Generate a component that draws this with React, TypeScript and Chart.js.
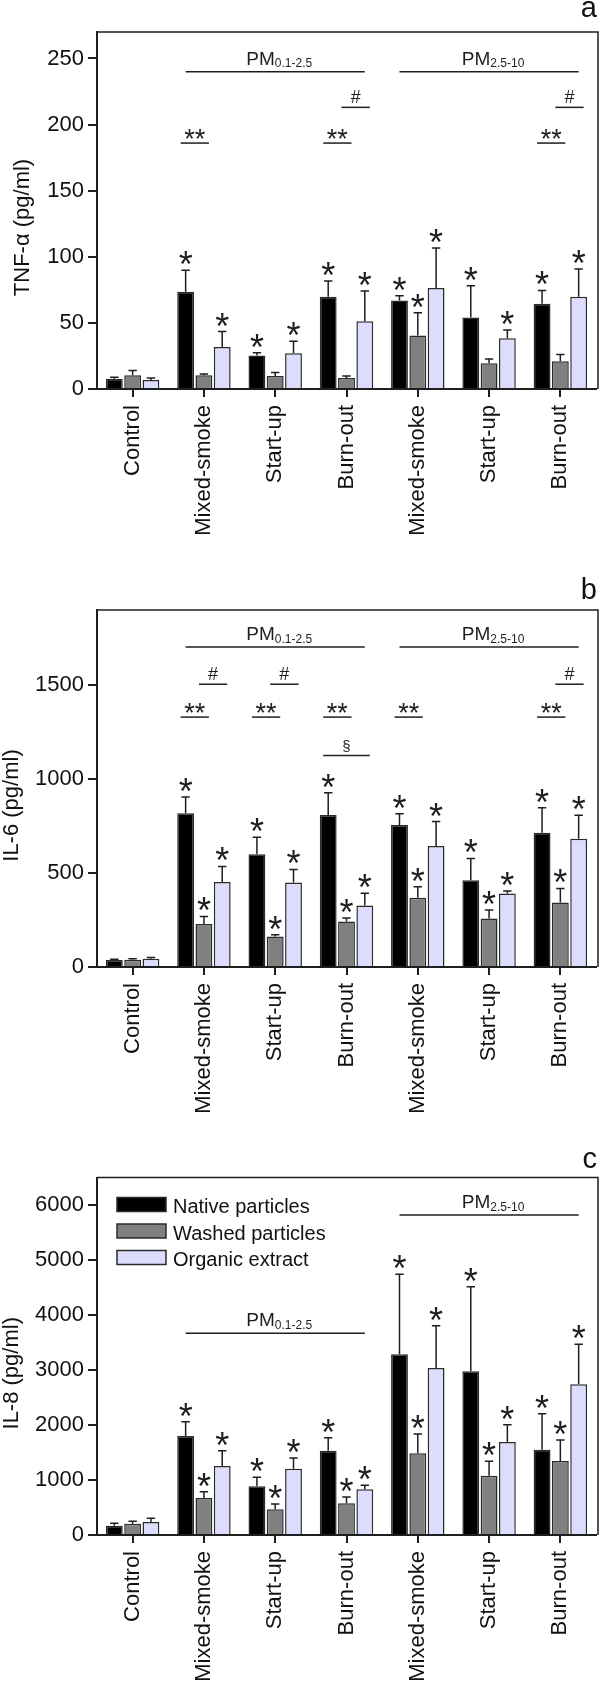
import { useEffect, useRef } from "react";
import { Chart, registerables } from "chart.js";

Chart.register(...registerables);

const FONT = "'Liberation Sans', Arial, Helvetica, sans-serif";

// ---------- shared categories / series ----------
const categories = ["Control", "Mixed-smoke", "Start-up", "Burn-out", "Mixed-smoke", "Start-up", "Burn-out"];
const seriesNames = ["Native particles", "Washed particles", "Organic extract"];
const seriesColors = ["#000000", "#808080", "#dcdcfc"];
const pmRanges = [
  { from: 1, to: 3, sub: "0.1-2.5" },
  { from: 4, to: 6, sub: "2.5-10" },
];

// ---------- panel a: TNF-alpha ----------
const tnfMax = 270;
const tnfTickValues = [0, 50, 100, 150, 200, 250];
const tnfNative = [7.8, 73.5, 25.3, 69.7, 66.9, 54, 64.4];
const tnfNativeErr = [1.0, 16.4, 2.2, 11.9, 3.6, 24, 10.1];
const tnfWashed = [10.4, 10.4, 9.8, 8.3, 40.4, 19.4, 21];
const tnfWashedErr = [3.5, 1.0, 2.6, 1.5, 17.2, 3.3, 5.0];
const tnfOrganic = [6.8, 31.8, 27, 51.3, 76.3, 38.4, 69.7];
const tnfOrganicErr = [1.5, 11.6, 9.1, 22.9, 30.3, 6.3, 21.0];
const tnfNativeStar = [0, 1, 1, 1, 1, 1, 1];
const tnfWashedStar = [0, 0, 0, 0, 1, 0, 0];
const tnfOrganicStar = [0, 1, 1, 1, 1, 1, 1];
const tnfDoubleStarGroups = [1, 3, 6];
const tnfDoubleStarLevel = 186;
const tnfHashGroups = [3, 6];
const tnfHashLevel = 213;
const tnfSectionGroups: number[] = [];
const tnfSectionLevel = 0;
const tnfPmLevels = [240, 240];

// ---------- panel b: IL-6 ----------
const il6Max = 1900;
const il6TickValues = [0, 500, 1000, 1500];
const il6Native = [37, 818, 600, 809, 756, 462, 715];
const il6NativeErr = [4, 87, 90, 118, 60, 116, 133];
const il6Washed = [39, 229, 162, 242, 368, 258, 343];
const il6WashedErr = [5, 40, 9, 19, 59, 46, 75];
const il6Organic = [44, 452, 450, 327, 644, 391, 683];
const il6OrganicErr = [6, 83, 69, 66, 130, 13, 124];
const il6NativeStar = [0, 1, 1, 1, 1, 1, 1];
const il6WashedStar = [0, 1, 1, 1, 1, 1, 1];
const il6OrganicStar = [0, 1, 1, 1, 1, 1, 1];
const il6DoubleStarGroups = [1, 2, 3, 4, 6];
const il6DoubleStarLevel = 1330;
const il6HashGroups = [1, 2, 6];
const il6HashLevel = 1505;
const il6SectionGroups = [3];
const il6SectionLevel = 1125;
const il6PmLevels = [1703, 1703];

// ---------- panel c: IL-8 ----------
const il8Max = 6500;
const il8TickValues = [0, 1000, 2000, 3000, 4000, 5000, 6000];
const il8Native = [170, 1800, 885, 1533, 3285, 2976, 1552];
const il8NativeErr = [42, 261, 163, 237, 1454, 1539, 654];
const il8Washed = [206, 673, 467, 576, 1485, 1079, 1345];
const il8WashedErr = [42, 115, 97, 115, 351, 260, 382];
const il8Organic = [236, 1255, 1206, 830, 3036, 1691, 2739];
const il8OrganicErr = [67, 278, 194, 73, 770, 315, 728];
const il8NativeStar = [0, 1, 1, 1, 1, 1, 1];
const il8WashedStar = [0, 1, 1, 1, 1, 1, 1];
const il8OrganicStar = [0, 1, 1, 1, 1, 1, 1];
const il8DoubleStarGroups: number[] = [];
const il8HashGroups: number[] = [];
const il8SectionGroups: number[] = [];
const il8PmLevels = [3667, 5820];

type PanelCfg = {
  letter: string;
  title: string;
  max: number;
  tickValues: number[];
  values: number[][];
  errors: number[][];
  stars: number[][];
  doubleStar: { groups: number[]; level: number };
  hash: { groups: number[]; level: number };
  section: { groups: number[]; level: number };
  pmLevels: number[];
  legend: boolean;
  canvasTop: number;
  canvasHeight: number;
  areaTop: number;
  areaBottom: number;
  letterBaseline: number;
  titleX: number;
};

const panels: PanelCfg[] = [
  {
    letter: "a", title: "TNF-\u03b1 (pg/ml)", max: tnfMax, tickValues: tnfTickValues,
    values: [tnfNative, tnfWashed, tnfOrganic],
    errors: [tnfNativeErr, tnfWashedErr, tnfOrganicErr],
    stars: [tnfNativeStar, tnfWashedStar, tnfOrganicStar],
    doubleStar: { groups: tnfDoubleStarGroups, level: tnfDoubleStarLevel },
    hash: { groups: tnfHashGroups, level: tnfHashLevel },
    section: { groups: tnfSectionGroups, level: tnfSectionLevel },
    pmLevels: tnfPmLevels, legend: false,
    canvasTop: 0, canvasHeight: 560, areaTop: 32, areaBottom: 389, letterBaseline: 16.5, titleX: 28.7,
  },
  {
    letter: "b", title: "IL-6 (pg/ml)", max: il6Max, tickValues: il6TickValues,
    values: [il6Native, il6Washed, il6Organic],
    errors: [il6NativeErr, il6WashedErr, il6OrganicErr],
    stars: [il6NativeStar, il6WashedStar, il6OrganicStar],
    doubleStar: { groups: il6DoubleStarGroups, level: il6DoubleStarLevel },
    hash: { groups: il6HashGroups, level: il6HashLevel },
    section: { groups: il6SectionGroups, level: il6SectionLevel },
    pmLevels: il6PmLevels, legend: false,
    canvasTop: 560, canvasHeight: 575, areaTop: 50, areaBottom: 407, letterBaseline: 39, titleX: 17.7,
  },
  {
    letter: "c", title: "IL-8 (pg/ml)", max: il8Max, tickValues: il8TickValues,
    values: [il8Native, il8Washed, il8Organic],
    errors: [il8NativeErr, il8WashedErr, il8OrganicErr],
    stars: [il8NativeStar, il8WashedStar, il8OrganicStar],
    doubleStar: { groups: il8DoubleStarGroups, level: 0 },
    hash: { groups: il8HashGroups, level: 0 },
    section: { groups: il8SectionGroups, level: 0 },
    pmLevels: il8PmLevels, legend: true,
    canvasTop: 1135, canvasHeight: 551, areaTop: 42.5, areaBottom: 400, letterBaseline: 32.5, titleX: 17.7,
  },
];

const INK = "#1e1e1e";

function drawTextAbove(ctx: CanvasRenderingContext2D, text: string, cx: number, bottomY: number) {
  ctx.textAlign = "center";
  ctx.textBaseline = "alphabetic";
  const m = ctx.measureText(text);
  ctx.fillText(text, cx, bottomY - m.actualBoundingBoxDescent);
}

const decorPlugin = {
  id: "panelDecor",
  afterDatasetsDraw(chart: any) {
    const cfg: PanelCfg = chart.options.plugins.panelDecor.cfg;
    const ctx: CanvasRenderingContext2D = chart.ctx;
    const y = chart.scales.y;
    const metas = [0, 1, 2].map((i) => chart.getDatasetMeta(i));
    const barX = (g: number, s: number) => metas[s].data[g].x;
    ctx.save();
    ctx.strokeStyle = INK;
    ctx.fillStyle = INK;
    ctx.lineWidth = 1.5;
    // error bars + single stars
    for (let s = 0; s < 3; s++) {
      for (let g = 0; g < categories.length; g++) {
        const el = metas[s].data[g];
        const top = y.getPixelForValue(cfg.values[s][g] + cfg.errors[s][g]);
        ctx.beginPath();
        ctx.moveTo(el.x, el.y);
        ctx.lineTo(el.x, top);
        ctx.moveTo(el.x - 4.2, top);
        ctx.lineTo(el.x + 4.2, top);
        ctx.stroke();
        if (cfg.stars[s][g]) {
          ctx.font = `36px ${FONT}`;
          drawTextAbove(ctx, "*", el.x, top - 5);
        }
      }
    }
    // brackets
    const bracket = (g: number, from: number, to: number, level: number, text: string, font: string) => {
      const x1 = barX(g, from) - 5;
      const x2 = barX(g, to) + 5;
      const py = y.getPixelForValue(level);
      ctx.beginPath();
      ctx.moveTo(x1, py);
      ctx.lineTo(x2, py);
      ctx.stroke();
      ctx.font = font;
      drawTextAbove(ctx, text, (x1 + x2) / 2, py - 4);
    };
    cfg.doubleStar.groups.forEach((g) => bracket(g, 0, 1, cfg.doubleStar.level, "**", `27px ${FONT}`));
    cfg.hash.groups.forEach((g) => bracket(g, 1, 2, cfg.hash.level, "#", `18px ${FONT}`));
    cfg.section.groups.forEach((g) => bracket(g, 0, 2, cfg.section.level, "\u00a7", `15px ${FONT}`));
    // PM size-fraction lines
    pmRanges.forEach((r, i) => {
      const x1 = barX(r.from, 0);
      const x2 = barX(r.to, 2);
      const py = y.getPixelForValue(cfg.pmLevels[i]);
      ctx.beginPath();
      ctx.moveTo(x1, py);
      ctx.lineTo(x2, py);
      ctx.stroke();
      ctx.textAlign = "left";
      ctx.textBaseline = "alphabetic";
      ctx.font = `19px ${FONT}`;
      const wMain = ctx.measureText("PM").width;
      ctx.font = `12px ${FONT}`;
      const wSub = ctx.measureText(r.sub).width;
      const left = (x1 + x2) / 2 + 4 - (wMain + wSub) / 2;
      const base = py - 7;
      ctx.font = `19px ${FONT}`;
      ctx.fillText("PM", left, base);
      ctx.font = `12px ${FONT}`;
      ctx.fillText(r.sub, left + wMain, base + 2.7);
    });
    ctx.restore();
  },
  afterDraw(chart: any) {
    const cfg: PanelCfg = chart.options.plugins.panelDecor.cfg;
    const ctx: CanvasRenderingContext2D = chart.ctx;
    const a = chart.chartArea;
    ctx.save();
    // frame top/right
    ctx.strokeStyle = INK;
    ctx.lineWidth = 1.5;
    ctx.beginPath();
    ctx.moveTo(a.left, a.top);
    ctx.lineTo(a.right + 2, a.top);
    ctx.lineTo(a.right + 2, a.bottom);
    ctx.stroke();
    // y title
    ctx.fillStyle = "#111";
    ctx.font = `22px ${FONT}`;
    ctx.translate(cfg.titleX, (a.top + a.bottom) / 2 + 17);
    ctx.rotate(-Math.PI / 2);
    ctx.textAlign = "center";
    ctx.textBaseline = "alphabetic";
    ctx.fillText(cfg.title, 0, 0);
    ctx.setTransform(1, 0, 0, 1, 0, 0);
    // panel letter
    ctx.font = `29px ${FONT}`;
    ctx.textAlign = "right";
    ctx.fillText(cfg.letter, 597, cfg.letterBaseline);
    // legend
    if (cfg.legend) {
      const ds = chart.data.datasets;
      ds.forEach((d: any, i: number) => {
        const bx = a.left + 20;
        const by = a.top + 20 + i * 26.5;
        ctx.fillStyle = d.backgroundColor;
        ctx.fillRect(bx, by, 49, 14);
        ctx.strokeStyle = "#2a2a2a";
        ctx.lineWidth = 1.5;
        ctx.strokeRect(bx, by, 49, 14);
        ctx.fillStyle = "#111";
        ctx.font = `20px ${FONT}`;
        ctx.textAlign = "left";
        ctx.textBaseline = "alphabetic";
        ctx.fillText(d.label, bx + 56, by + 15.5);
      });
    }
    ctx.restore();
  },
};

function Panel({ cfg }: { cfg: PanelCfg }) {
  const ref = useRef<HTMLCanvasElement>(null);
  useEffect(() => {
    const xAxisH = cfg.canvasHeight - cfg.areaBottom;
    const chart = new Chart(ref.current as HTMLCanvasElement, {
      type: "bar",
      data: {
        labels: categories,
        datasets: seriesNames.map((name, i) => ({
          label: name,
          data: cfg.values[i],
          backgroundColor: seriesColors[i],
          borderColor: "#2a2a2a",
          borderWidth: 1.5,
          categoryPercentage: 0.77,
          barPercentage: 0.92,
        })),
      },
      options: {
        responsive: false,
        animation: false,
        devicePixelRatio: 1,
        layout: { padding: { top: cfg.areaTop, right: 4, left: 0, bottom: 0 } },
        plugins: {
          legend: { display: false },
          tooltip: { enabled: false },
          panelDecor: { cfg },
        } as any,
        scales: {
          x: {
            grid: { display: true, drawOnChartArea: false, drawTicks: true, tickLength: 8, lineWidth: 2, color: INK, offset: false },
            border: { display: true, width: 2, color: INK },
            ticks: { font: { family: FONT, size: 22 }, color: "#111", maxRotation: 90, minRotation: 90, autoSkip: false, padding: 8 },
            afterFit: (s: any) => { s.height = xAxisH; },
          },
          y: {
            min: 0,
            max: cfg.max,
            grid: { display: true, drawOnChartArea: false, drawTicks: true, tickLength: 9, lineWidth: 2, color: INK },
            border: { display: true, width: 2, color: INK },
            ticks: {
              font: { family: FONT, size: 22 },
              color: "#111",
              padding: 4,
              callback: (v: any) => String(v),
            },
            afterBuildTicks: (s: any) => { s.ticks = cfg.tickValues.map((v) => ({ value: v })); },
            afterFit: (s: any) => { s.width = 97; },
          },
        },
      } as any,
      plugins: [decorPlugin],
    });
    return () => chart.destroy();
  }, [cfg]);
  return (
    <canvas
      ref={ref}
      width={600}
      height={cfg.canvasHeight}
      style={{ position: "absolute", left: 0, top: cfg.canvasTop, width: 600, height: cfg.canvasHeight, display: "block" }}
    />
  );
}

export default function App() {
  return (
    <div style={{ position: "absolute", left: 0, top: 0, width: 600, height: 1686, background: "#fff", overflow: "hidden" }}>
      {panels.map((p) => (
        <Panel key={p.letter} cfg={p} />
      ))}
    </div>
  );
}
